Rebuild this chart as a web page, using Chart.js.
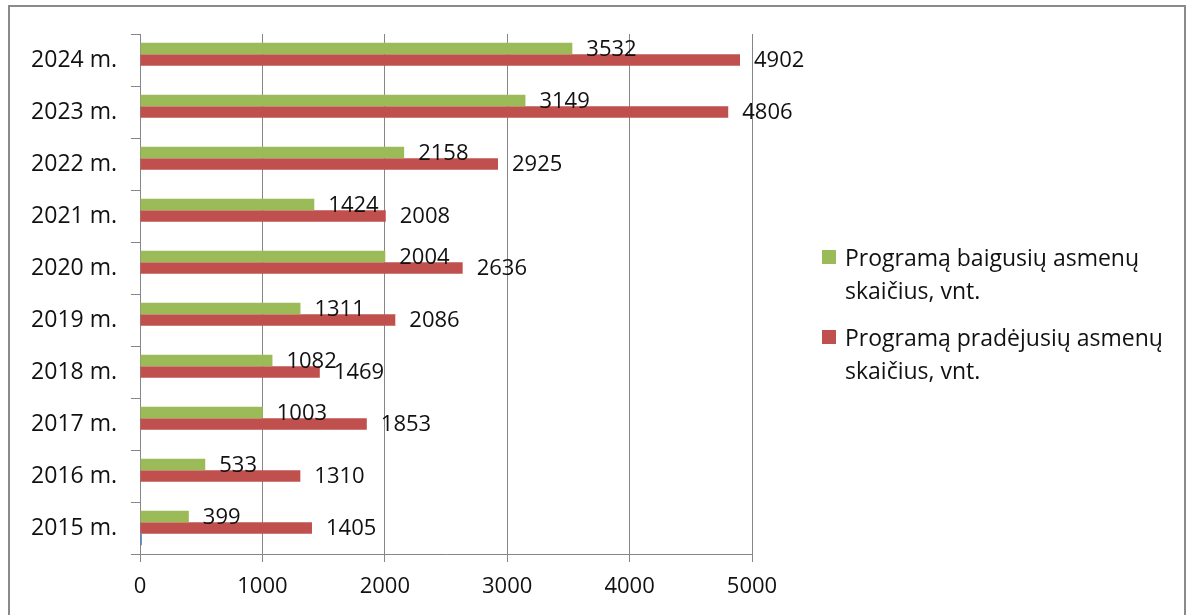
<!DOCTYPE html>
<html>
<head>
<meta charset="utf-8">
<script src="https://cdn.jsdelivr.net/npm/chart.js@4.4.1/dist/chart.umd.min.js"></script>
<style>
  html, body { margin: 0; padding: 0; background: #fff; }
  #wrap { position: relative; width: 1194px; height: 615px; overflow: hidden; }
  #c { position: absolute; left: 0; top: 0; }
  #frame { position: absolute; left: 8px; top: 5px; width: 1178px; height: 700px;
           border: 2px solid #8a8a8a; pointer-events: none; box-sizing: border-box; }
  #legend { position: absolute; left: 822px; top: 241px; font-family: "Open Sans", sans-serif;
            font-size: 23px; line-height: 33px; color: #111; }
  .item { position: relative; padding-left: 23px; margin-bottom: 14px; white-space: nowrap; }
  .sw { position: absolute; left: 0; top: 9px; width: 14px; height: 14px; }
</style>
</head>
<body>
<div id="wrap">
  <canvas id="c" width="1194" height="615"></canvas>
  <div id="frame"></div>
  <div id="legend"></div>
</div>
<script>
// Data (chronological)
const years = ['2015 m.', '2016 m.', '2017 m.', '2018 m.', '2019 m.', '2020 m.', '2021 m.', '2022 m.', '2023 m.', '2024 m.'];
const baigusiu = [399, 533, 1003, 1082, 1311, 2004, 1424, 2158, 3149, 3532];
const pradejusiu = [1405, 1310, 1853, 1469, 2086, 2636, 2008, 2925, 4806, 4902];
const trecia = [15, 0, 0, 0, 0, 0, 0, 0, 0, 0];
const xTicks = [0, 1000, 2000, 3000, 4000, 5000];
const seriesNames = ['Programą baigusių asmenų skaičius, vnt.', 'Programą pradėjusių asmenų skaičius, vnt.'];
const legendLines = [['Programą baigusių asmenų', 'skaičius, vnt.'], ['Programą pradėjusių asmenų', 'skaičius, vnt.']];

const GREEN = '#9BBB59', RED = '#C0504D', BLUE = '#4F81BD';
const AXIS = '#868686';
const FONT = '"Open Sans", sans-serif';

const rev = a => a.slice().reverse();

const valueLabels = {
  id: 'valueLabels',
  afterDatasetsDraw(chart) {
    const ctx = chart.ctx;
    ctx.save();
    ctx.font = '22px ' + FONT;
    ctx.fillStyle = '#111';
    ctx.textBaseline = 'middle';
    ctx.textAlign = 'left';
    [0, 1].forEach(di => {
      const meta = chart.getDatasetMeta(di);
      const data = chart.data.datasets[di].data;
      meta.data.forEach((el, i) => {
        ctx.fillText(String(data[i]), el.x + 14, el.y + 1);
      });
    });
    ctx.restore();
  }
};

const chart = new Chart(document.getElementById('c'), {
  type: 'bar',
  data: {
    labels: rev(years),
    datasets: [
      { label: seriesNames[0], data: rev(baigusiu), backgroundColor: GREEN },
      { label: seriesNames[1], data: rev(pradejusiu), backgroundColor: RED },
      { label: '', data: rev(trecia), backgroundColor: BLUE }
    ]
  },
  options: {
    indexAxis: 'y',
    responsive: false,
    animation: false,
    devicePixelRatio: 1,
    layout: { padding: { left: 0, top: 34, right: 442, bottom: 0 } },
    datasets: { bar: { categoryPercentage: 0.66, barPercentage: 1.0 } },
    plugins: { legend: { display: false }, tooltip: { enabled: false } },
    scales: {
      x: {
        type: 'linear', min: 0, max: 5000,
        afterBuildTicks(s) { s.ticks = xTicks.map(v => ({ value: v })); },
        afterFit(s) { s.height = 61; },
        grid: { color: AXIS, lineWidth: 1, tickLength: 8, drawTicks: true },
        border: { display: true, color: AXIS, width: 1 },
        ticks: { font: { family: FONT, size: 22 }, color: '#111', padding: 12, maxRotation: 0,
                 callback: v => String(v) }
      },
      y: {
        type: 'category',
        afterFit(s) { s.width = 140; },
        grid: { offset: true, drawOnChartArea: false, drawTicks: true, tickLength: 9, color: AXIS },
        border: { display: true, color: AXIS, width: 1 },
        ticks: { font: { family: FONT, size: 23 }, color: '#111', padding: 14 }
      }
    }
  },
  plugins: [valueLabels]
});

// Legend built from dataset colours and names
const lg = document.getElementById('legend');
[GREEN, RED].forEach((col, i) => {
  const d = document.createElement('div');
  d.className = 'item';
  const sw = document.createElement('span');
  sw.className = 'sw';
  sw.style.background = chart.data.datasets[i].backgroundColor;
  d.appendChild(sw);
  legendLines[i].forEach((ln, k) => {
    if (k) d.appendChild(document.createElement('br'));
    d.appendChild(document.createTextNode(ln));
  });
  lg.appendChild(d);
});
</script>
</body>
</html>
